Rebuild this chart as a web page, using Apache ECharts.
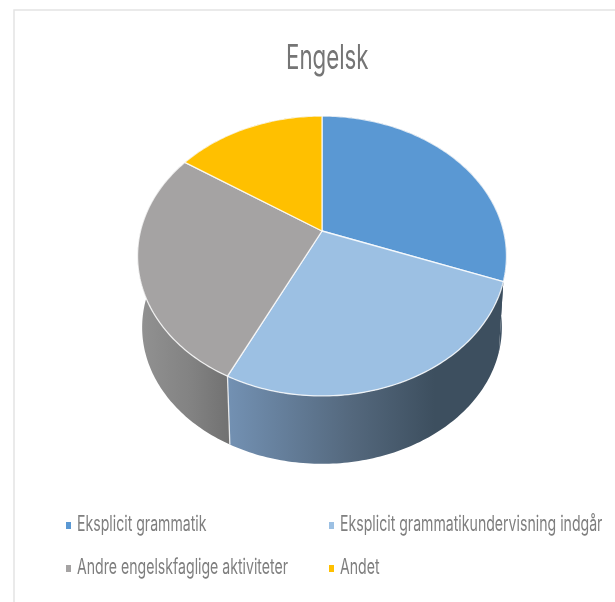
<!DOCTYPE html>
<html>
<head>
<meta charset="utf-8">
<style>html,body{margin:0;padding:0;background:#fff}#chart{width:615px;height:602px}</style>
<script src="https://cdn.jsdelivr.net/npm/echarts@6/dist/echarts.min.js"></script>
</head>
<body>
<div id="chart"></div>
<script>
// Slice shares in percent, clockwise from twelve o'clock
const categories = ['Eksplicit grammatik', 'Eksplicit grammatikundervisning indgår', 'Andre engelskfaglige aktiviteter', 'Andet'];
const shares = [30.7, 26.5, 27.2, 15.6];
const chartTitle = 'Engelsk';
const topColors = ['#5a98d3', '#9cc0e3', '#a5a3a3', '#ffc000'];
const wallStops = [
  [[0, '#3f5163'], [1, '#3f5163']],
  [[0, '#7391b3'], [0.45, '#54687d'], [0.75, '#3d4f5f'], [1, '#3d4f5f']],
  [[0, '#929292'], [0.6, '#828282'], [1, '#727272']],
  [[0, '#8a6a00'], [1, '#8a6a00']]
];

// Perspective disc: apex position, radius, foreshortening and wall offset
const apex = { x: 322, y: 231 };
const radiusX = 181.5;
const radiusY = 135.5;
const perspective = 0.1786;
const rimScale = 0.975;
const rimDrop = 72;

function topPoint(deg) {
  const a = deg * Math.PI / 180;
  const X = Math.sin(a), Y = -Math.cos(a);
  const w = 1 - perspective * Y;
  return [apex.x + radiusX * X / w, apex.y + radiusY * Y / w];
}
function bottomPoint(deg) {
  const p = topPoint(deg);
  return [apex.x + (p[0] - apex.x) * rimScale, apex.y + (p[1] - apex.y) * rimScale + rimDrop];
}
function arc(fn, from, to) {
  const pts = [];
  const n = Math.max(2, Math.ceil(Math.abs(to - from)));
  for (let i = 0; i <= n; i++) pts.push(fn(from + (to - from) * i / n));
  return pts;
}

const total = shares.reduce((s, v) => s + v, 0);
let running = 0;
const spans = shares.map(v => {
  const start = running / total * 360;
  running += v;
  return [start, running / total * 360];
});

const series = categories.map((name, i) => ({
  name,
  type: 'custom',
  coordinateSystem: 'none',
  silent: true,
  itemStyle: { color: topColors[i] },
  data: [shares[i]],
  renderItem() {
    const [from, to] = spans[i];
    const topArc = arc(topPoint, from, to);
    const lowArc = arc(bottomPoint, from, to);
    const xs = topArc.map(p => p[0]);
    const children = [
      {
        type: 'polygon',
        z2: 1,
        shape: { points: topArc.concat(lowArc.slice().reverse()) },
        style: {
          fill: {
            type: 'linear', global: true,
            x: Math.min.apply(null, xs), y: 0, x2: Math.max.apply(null, xs), y2: 0,
            colorStops: wallStops[i].map(s => ({ offset: s[0], color: s[1] }))
          }
        }
      },
      {
        type: 'polygon',
        z2: 3,
        shape: { points: [[apex.x, apex.y]].concat(topArc) },
        style: { fill: topColors[i], stroke: 'rgba(255,255,255,0.8)', lineWidth: 1.3, lineJoin: 'round' }
      }
    ];
    // Seam on the near wall where this slice ends
    if (to > 120 && to < 270) {
      children.push({
        type: 'line',
        z2: 2,
        shape: { x1: topPoint(to)[0], y1: topPoint(to)[1], x2: bottomPoint(to)[0], y2: bottomPoint(to)[1] },
        style: { stroke: 'rgba(255,255,255,0.8)', lineWidth: 1.3 }
      });
    }
    return { type: 'group', children };
  }
}));

// Condensed text: a wide sans squeezed horizontally
const textFont = 'Inter, "Open Sans", sans-serif';
function squeezedText(text, x, y, size, squeeze, color) {
  return {
    type: 'text', silent: true, x, y, scaleX: squeeze,
    style: { text, x: 0, y: 0, fill: color, font: 'normal ' + size + 'px ' + textFont, textAlign: 'left', textVerticalAlign: 'middle' }
  };
}

// Two-column key under the pie
const keySlots = [[66, 525], [329, 525], [66, 568], [329, 568]];
const keyMarks = categories.map((name, i) => ({
  type: 'group',
  children: [
    { type: 'rect', silent: true, shape: { x: keySlots[i][0], y: keySlots[i][1] - 3, width: 5, height: 7 }, style: { fill: topColors[i] } },
    squeezedText(name, keySlots[i][0] + 11, keySlots[i][1], 21, 0.672, '#7f7f7f')
  ]
}));

const chart = echarts.init(document.getElementById('chart'), null, { renderer: 'canvas' });
chart.setOption({
  animation: false,
  backgroundColor: '#fff',
  graphic: [
    {
      type: 'polyline',
      silent: true,
      shape: { points: [[14, 602], [14, 10], [615, 10]] },
      style: { stroke: '#e4e4e4', lineWidth: 1.5, fill: null }
    },
    squeezedText(chartTitle, 286, 59, 34, 0.655, '#757575')
  ].concat(keyMarks),
  series
});
</script>
</body>
</html>
